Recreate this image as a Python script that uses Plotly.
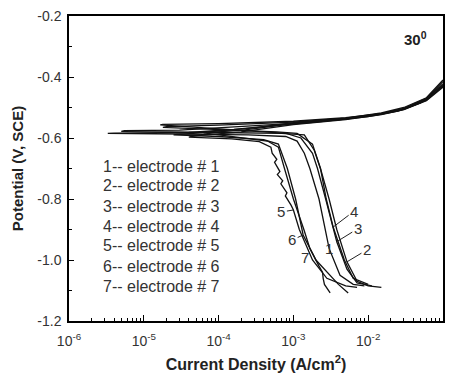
import math
import plotly.graph_objects as go

# ---- data: current density (A/cm^2) and potential (V vs SCE), swept cathodic -> anodic ----
i_e1 = [8.9e-3, 6.3e-3, 4.2e-3, 3.0e-3, 2.2e-3, 1.66e-3, 1.4e-3, 1.12e-3, 7.9e-4, 2.5e-4, 3.2e-5, 3.3e-6,
        4.0e-6, 4.0e-5, 1.6e-4, 5e-4, 2e-3, 1e-2, 2.5e-2, 5e-2, 1.0e-1]
E_e1 = [-1.085, -1.08, -1.05, -0.962, -0.80, -0.70, -0.65, -0.61, -0.595, -0.59, -0.587, -0.585,
        -0.584, -0.582, -0.572, -0.56, -0.548, -0.53, -0.512, -0.485, -0.425]

i_e2 = [1.5e-2, 1.0e-2, 7.1e-3, 5.2e-3, 3.8e-3, 3.0e-3, 2.3e-3, 1.9e-3, 1.4e-3, 7e-4, 1e-4, 5e-6,
        5.5e-6, 3e-5, 2e-4, 1e-3, 5e-3, 1.5e-2, 3e-2, 6e-2, 1.0e-1]
E_e2 = [-1.09, -1.085, -1.07, -1.006, -0.90, -0.80, -0.70, -0.64, -0.59, -0.585, -0.582, -0.578,
        -0.576, -0.574, -0.563, -0.552, -0.538, -0.52, -0.505, -0.475, -0.43]

i_e3 = [1.12e-2, 7.1e-3, 5.2e-3, 3.8e-3, 2.7e-3, 2.1e-3, 1.8e-3, 1.26e-3, 8e-4, 2e-4, 5e-5, 1.66e-5,
        1.8e-5, 1e-4, 1e-3, 5e-3, 1.5e-2, 3e-2, 6e-2, 1.0e-1]
E_e3 = [-1.085, -1.075, -1.03, -0.94, -0.80, -0.70, -0.65, -0.60, -0.585, -0.575, -0.565, -0.557,
        -0.555, -0.553, -0.545, -0.533, -0.52, -0.503, -0.47, -0.415]

i_e4 = [1.0e-2, 6.3e-3, 4.8e-3, 3.4e-3, 2.75e-3, 2.3e-3, 1.8e-3, 1.12e-3, 6e-4, 1e-4, 1.8e-5,
        2e-5, 1e-4, 1e-3, 5e-3, 1.5e-2, 3e-2, 6e-2, 1.0e-1]
E_e4 = [-1.08, -1.06, -1.0, -0.892, -0.80, -0.70, -0.62, -0.585, -0.58, -0.572, -0.565,
        -0.563, -0.558, -0.548, -0.535, -0.518, -0.50, -0.468, -0.41]

i_e5 = [7.1e-3, 5.0e-3, 2.8e-3, 1.8e-3, 1.2e-3, 1.0e-3, 9.3e-4, 7.8e-4, 8.2e-4, 6.8e-4, 7.2e-4, 6.1e-4,
        6.6e-4, 5.6e-4, 6.0e-4, 5.2e-4, 5.0e-4, 3.5e-4, 1.5e-4, 4e-5,
        4.5e-5, 2e-4, 1e-3, 5e-3, 1.5e-2, 3e-2, 6e-2, 1.0e-1]
E_e5 = [-1.09, -1.085, -1.06, -1.0, -0.90, -0.836, -0.82, -0.79, -0.78, -0.75, -0.74, -0.72,
        -0.71, -0.68, -0.67, -0.65, -0.63, -0.612, -0.603, -0.597,
        -0.594, -0.58, -0.556, -0.54, -0.523, -0.507, -0.478, -0.433]

i_e6 = [5.4e-3, 4.0e-3, 2.0e-3, 1.35e-3, 1.07e-3, 8.3e-4, 6.3e-4, 4e-4, 1e-4, 2.5e-5,
        2.8e-5, 2e-4, 1e-3, 5e-3, 1.5e-2, 3e-2, 6e-2, 1.0e-1]
E_e6 = [-1.108, -1.08, -1.0, -0.918, -0.80, -0.70, -0.62, -0.605, -0.595, -0.59,
        -0.588, -0.575, -0.553, -0.537, -0.522, -0.506, -0.476, -0.428]

i_e7 = [3.1e-3, 2.6e-3, 2.5e-3, 2.45e-3, 2.2e-3, 1.66e-3, 1.38e-3, 1.0e-3, 7.6e-4, 6.3e-4, 4.5e-4, 1.5e-4, 6.3e-5,
        7e-5, 3e-4, 1e-3, 5e-3, 1.5e-2, 3e-2, 6e-2, 1.0e-1]
E_e7 = [-1.108, -1.08, -1.06, -1.04, -1.02, -0.962, -0.90, -0.80, -0.70, -0.63, -0.61, -0.595, -0.583,
        -0.58, -0.567, -0.55, -0.536, -0.52, -0.504, -0.473, -0.422]

legend_lines = ["1-- electrode # 1", "2-- electrode # 2", "3-- electrode # 3", "4-- electrode # 4",
                "5-- electrode # 5", "6-- electrode # 6", "7-- electrode # 7"]

x_tick_vals = [1e-6, 1e-5, 1e-4, 1e-3, 1e-2, 1e-1]
x_tick_text = ["10<sup>-6</sup>", "10<sup>-5</sup>", "10<sup>-4</sup>", "10<sup>-3</sup>",
               "10<sup>-2</sup>", "10<sup>-1</sup>"]
y_tick_vals = [-1.2, -1.0, -0.8, -0.6, -0.4, -0.2]
y_tick_text = ["-1.2", "-1.0", "-0.8", "-0.6", "-0.4", "-0.2"]

# curve labels: (text, current, potential, ax, ay, show leader)
curve_labels = [("4", 3.4e-3, -0.892, 21, -16, True),
                ("3", 3.8e-3, -0.94, 21, -13, True),
                ("2", 5.2e-3, -1.006, 20, -12, True),
                ("1", 2.95e-3, -0.962, 0, 0, False),
                ("5", 1.0e-3, -0.836, -12, 2, True),
                ("6", 1.35e-3, -0.918, -11, 5, True),
                ("7", 1.66e-3, -0.962, -5, 9, True)]

curves = [(i_e1, E_e1), (i_e2, E_e2), (i_e3, E_e3), (i_e4, E_e4), (i_e5, E_e5), (i_e6, E_e6), (i_e7, E_e7)]

W, H = 452, 373
ML, MR, MT, MB = 69, 9, 16, 52
plot_w = W - ML - MR
plot_h = H - MT - MB

fig = go.Figure()
for k, (ii, ee) in enumerate(curves):
    fig.add_trace(go.Scatter(x=ii, y=ee, mode="lines", line=dict(color="#111", width=1.3),
                             showlegend=False, name=legend_lines[k]))

font_fam = "Liberation Sans, Arial, sans-serif"

annotations = []
for txt, xi, ye, ax, ay, arrow in curve_labels:
    annotations.append(dict(x=math.log10(xi), y=ye, xref="x", yref="y", text=txt,
                            showarrow=arrow, arrowhead=0, arrowwidth=1, arrowcolor="#222",
                            ax=ax, ay=ay, standoff=0,
                            font=dict(family=font_fam, size=15, color="#333")))

for n, line in enumerate(legend_lines):
    px, py = 101, 166 + 20 * n
    annotations.append(dict(x=(px - ML) / plot_w, y=1 - (py - MT) / plot_h, xref="paper", yref="paper",
                            text=line, showarrow=False, xanchor="left", yanchor="middle",
                            font=dict(family=font_fam, size=16, color="#333")))

annotations.append(dict(x=(402 - ML) / plot_w, y=1 - (27 - MT) / plot_h, xref="paper", yref="paper",
                        text="<b>30<sup>0</sup></b>",
                        showarrow=False, xanchor="left", yanchor="top",
                        font=dict(family=font_fam, size=15, color="#222")))

fig.update_layout(
    width=W, height=H,
    margin=dict(l=ML, r=MR, t=MT, b=MB),
    paper_bgcolor="white", plot_bgcolor="white",
    font=dict(family=font_fam, color="#222"),
    annotations=annotations,
)

fig.update_xaxes(
    type="log", range=[-6, -1], automargin=False,
    tickvals=x_tick_vals, ticktext=x_tick_text,
    ticks="inside", ticklen=6, tickwidth=1, tickcolor="black",
    minor=dict(ticks="inside", ticklen=3, tickwidth=1, tickcolor="black",
               tickvals=[m * 10.0 ** e for e in range(-6, -1) for m in range(2, 10)]),
    showline=True, linecolor="black", linewidth=1.5, mirror=True,
    showgrid=False, zeroline=False,
    ticklabelstandoff=6,
    tickfont=dict(size=14, color="#333"),
    title=dict(text="<b>Current Density (A/cm<sup>2</sup>)</b>", font=dict(size=16, color="#222"), standoff=11),
)
fig.update_yaxes(
    range=[-1.2, -0.2], automargin=False, tickvals=y_tick_vals, ticktext=y_tick_text,
    ticks="inside", ticklen=5, tickwidth=1, tickcolor="black",
    minor=dict(ticks="inside", ticklen=3, dtick=0.1, tickcolor="black"),
    showline=True, linecolor="black", linewidth=1.5, mirror=True,
    showgrid=False, zeroline=False,
    ticklabelstandoff=3,
    tickfont=dict(size=14, color="#333"),
    title=dict(text="<b>Potential (V, SCE)</b>", font=dict(size=15, color="#222"), standoff=10),
)

fig.write_html("out.html")
